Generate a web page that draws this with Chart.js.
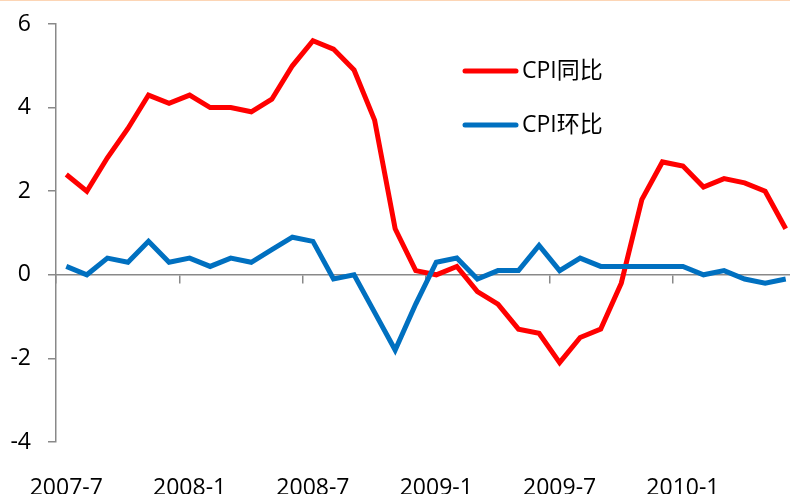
<!DOCTYPE html>
<html>
<head>
<meta charset="utf-8">
<script src="https://cdn.jsdelivr.net/npm/chart.js@4/dist/chart.umd.min.js"></script>
<style>
html, body { margin: 0; padding: 0; background: #fff; overflow: hidden; width: 790px; height: 494px; }
#wrap { position: absolute; left: 0; top: 0; width: 800px; height: 500px; }
#topline { position: absolute; left: 0; top: 0; width: 790px; height: 1px; background: #fcd5b5; }
</style>
</head>
<body>
<div id="wrap"><canvas id="cpi"></canvas></div>
<div id="topline"></div>
<script>
var months = ['2007-7','2007-8','2007-9','2007-10','2007-11','2007-12',
              '2008-1','2008-2','2008-3','2008-4','2008-5','2008-6',
              '2008-7','2008-8','2008-9','2008-10','2008-11','2008-12',
              '2009-1','2009-2','2009-3','2009-4','2009-5','2009-6',
              '2009-7','2009-8','2009-9','2009-10','2009-11','2009-12',
              '2010-1','2010-2','2010-3','2010-4','2010-5','2010-6'];

var cpiYoy = [2.4, 2.0, 2.8, 3.5, 4.3, 4.1, 4.3, 4.0, 4.0, 3.9, 4.2, 5.0,
              5.6, 5.4, 4.9, 3.7, 1.1, 0.1, 0.0, 0.2, -0.4, -0.7, -1.3, -1.4,
              -2.1, -1.5, -1.3, -0.2, 1.8, 2.7, 2.6, 2.1, 2.3, 2.2, 2.0, 1.1];

var cpiMom = [0.2, 0.0, 0.4, 0.3, 0.8, 0.3, 0.4, 0.2, 0.4, 0.3, 0.6, 0.9,
              0.8, -0.1, 0.0, -0.9, -1.8, -0.7, 0.3, 0.4, -0.1, 0.1, 0.1, 0.7,
              0.1, 0.4, 0.2, 0.2, 0.2, 0.2, 0.2, 0.0, 0.1, -0.1, -0.2, -0.1];

var seriesNames = ['CPI同比', 'CPI环比'];
var seriesColors = ['#ff0000', '#0070c0'];

var fontFamily = "'Open Sans', 'Noto Sans CJK SC', sans-serif";
Chart.defaults.font.family = fontFamily;
var axisGrey = '#898989';

// legend sits inside the plot, top middle, like the original
var insideLegend = {
  id: 'insideLegend',
  afterDatasetsDraw: function(chart){
    var ctx = chart.ctx;
    chart.data.datasets.forEach(function(ds, i){
      var y = 71 + i * 54;
      ctx.save();
      ctx.strokeStyle = ds.borderColor;
      ctx.lineWidth = 5;
      ctx.lineCap = 'round';
      ctx.beginPath();
      ctx.moveTo(465, y);
      ctx.lineTo(516, y);
      ctx.stroke();
      ctx.fillStyle = '#000';
      ctx.font = '23px ' + fontFamily;
      ctx.textBaseline = 'middle';
      ctx.fillText(ds.label, 522, y);
      ctx.restore();
    });
  }
};

new Chart(document.getElementById('cpi').getContext('2d'), {
  type: 'line',
  data: {
    labels: months,
    datasets: [
      {label: seriesNames[0], data: cpiYoy, borderColor: seriesColors[0], borderWidth: 5,
       pointRadius: 0, tension: 0, fill: false, order: 1, xAxisID: 'x'},
      {label: seriesNames[1], data: cpiMom, borderColor: seriesColors[1], borderWidth: 5,
       pointRadius: 0, tension: 0, fill: false, order: 0, xAxisID: 'x'}
    ]
  },
  options: {
    responsive: true,
    maintainAspectRatio: false,
    animation: false,
    layout: {padding: {top: 24, right: 4, left: 0, bottom: 0}},
    plugins: {legend: {display: false}, tooltip: {enabled: false}},
    scales: {
      y: {
        min: -4, max: 6,
        ticks: {stepSize: 2, padding: 17, color: '#000', font: {size: 23}},
        grid: {drawOnChartArea: false, drawTicks: true, tickLength: 8, color: axisGrey, lineWidth: 1.5},
        border: {color: axisGrey, width: 1.5},
        afterFit: function(s){ s.width = 56; s.paddingTop = 0; s.paddingBottom = 0; }
      },
      x: {
        type: 'category',
        position: {y: 0},
        offset: true,
        grid: {offset: true, drawOnChartArea: false, tickLength: 8, lineWidth: 1.5,
               color: function(c){ return c.index % 6 === 0 ? axisGrey : 'rgba(0,0,0,0)'; }},
        border: {color: axisGrey, width: 1.5},
        ticks: {display: false, autoSkip: false},
        afterFit: function(s){ s.paddingLeft = 0; s.paddingRight = 0; }
      },
      x2: {
        type: 'category',
        position: 'bottom',
        offset: true,
        grid: {display: false},
        border: {display: false},
        ticks: {autoSkip: false, maxRotation: 0, padding: 25, color: '#000', font: {size: 23},
                callback: function(v, i){ return i % 6 === 0 ? this.getLabelForValue(v) : ''; }},
        afterFit: function(s){ s.height = 58; s.paddingLeft = 0; s.paddingRight = 0; }
      }
    }
  },
  plugins: [insideLegend]
});
</script>
</body>
</html>
